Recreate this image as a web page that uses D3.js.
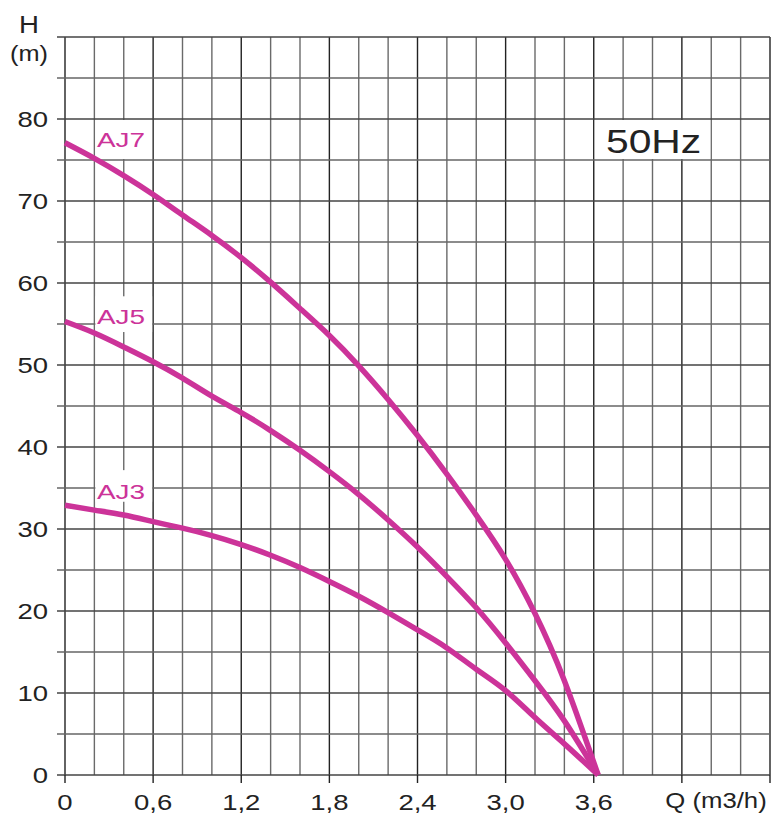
<!DOCTYPE html>
<html>
<head>
<meta charset="utf-8">
<script src="https://cdn.jsdelivr.net/npm/d3@7"></script>
<style>
  body { margin: 0; background: #fff; }
  svg { font-family: "Liberation Sans", Arial, sans-serif; }
</style>
</head>
<body>
<div id="chart"></div>
<script>
(function () {
  "use strict";

  // flow (m3/h) and head (m)
  const flow = [0, 0.2, 0.4, 0.6, 0.8, 1.0, 1.2, 1.4, 1.6, 1.8, 2.0, 2.2, 2.4, 2.6, 2.8, 3.0, 3.2, 3.4, 3.63];
  const headAJ7 = [77.1, 75.2, 73.1, 70.8, 68.3, 65.8, 63.1, 60.1, 56.9, 53.6, 49.9, 45.8, 41.4, 36.7, 31.7, 26.3, 19.7, 11.5, 0];
  const headAJ5 = [55.3, 53.9, 52.2, 50.4, 48.4, 46.2, 44.2, 42.0, 39.6, 37.0, 34.2, 31.1, 27.8, 24.2, 20.4, 16.1, 11.5, 6.6, 0];
  const headAJ3 = [32.9, 32.3, 31.7, 30.9, 30.1, 29.2, 28.1, 26.8, 25.3, 23.6, 21.8, 19.8, 17.7, 15.5, 12.9, 10.3, 7.0, 3.8, 0];
  const seriesNames = ["AJ7", "AJ5", "AJ3"];

  const xTickLabels = ["0", "0,6", "1,2", "1,8", "2,4", "3,0", "3,6"];
  const xTickValues = [0, 0.6, 1.2, 1.8, 2.4, 3.0, 3.6];
  const yTickValues = [0, 10, 20, 30, 40, 50, 60, 70, 80];

  const width = 771, height = 814;
  const margin = { left: 65, right: 1, top: 37, bottom: 39 };
  const pink = "#cc3399";
  const stretch = 1.25; // the original lettering is wide

  const x = d3.scaleLinear().domain([0, 4.8]).range([margin.left, width - margin.right]);
  const y = d3.scaleLinear().domain([0, 90]).range([height - margin.bottom, margin.top]);

  const svg = d3.select("#chart").append("svg")
    .attr("width", width).attr("height", height)
    .attr("viewBox", `0 0 ${width} ${height}`);

  // helper for stretched text
  const wideText = (parent, tx, ty, str, opts = {}) =>
    parent.append("text")
      .attr("transform", `translate(${tx},${ty}) scale(${opts.sx || stretch},1)`)
      .attr("text-anchor", opts.anchor || "start")
      .attr("font-size", opts.size || 22)
      .attr("fill", opts.fill || "#222")
      .text(str);

  // grid
  const grid = svg.append("g").classed("grid", true);
  d3.range(0, 4.8001, 0.2).forEach((q, i) => {
    grid.append("line")
      .attr("x1", x(q)).attr("x2", x(q))
      .attr("y1", y(90)).attr("y2", y(0))
      .attr("stroke", i % 3 == 0 ? "#222" : "#6a6a6a")
      .attr("stroke-width", 1.4);
  });
  d3.range(0, 90.001, 5).forEach((h, i) => {
    grid.append("line")
      .attr("x1", x(0) - 8).attr("x2", x(4.8))
      .attr("y1", y(h)).attr("y2", y(h))
      .attr("stroke", i % 2 == 0 ? "#444" : "#666")
      .attr("stroke-width", 1.4);
  });
  // ticks below x axis
  [...xTickValues, 4.2, 4.8].forEach((q) => {
    grid.append("line")
      .attr("x1", x(q)).attr("x2", x(q))
      .attr("y1", y(0)).attr("y2", y(0) + 8)
      .attr("stroke", "#222").attr("stroke-width", 1.4);
  });

  // axis labels
  const labels = svg.append("g");
  yTickValues.forEach((d) => wideText(labels, 48, y(d) + 7.5, d, { anchor: "end" }));
  xTickValues.forEach((d, i) => wideText(labels, x(d), 810, xTickLabels[i], { anchor: "middle" }));
  wideText(labels, 716, 808, "Q (m3/h)", { anchor: "middle", sx: 1.17 });
  wideText(labels, 29, 33, "H", { anchor: "middle", size: 24, sx: 1.15 });
  wideText(labels, 29, 61, "(m)", { anchor: "middle", size: 22, sx: 1.15 });

  // white boxes behind curve names and frequency
  const boxes = [
    { q0: 0.2, q1: 0.6, h0: 75, h1: 80 },
    { q0: 0.2, q1: 0.6, h0: 53.9, h1: 58.5 },
    { q0: 0.2, q1: 0.6, h0: 33.2, h1: 37.3 },
    { q0: 3.6, q1: 4.4, h0: 75, h1: 80 },
  ];
  svg.append("g").selectAll("rect")
    .data(boxes)
    .enter().append("rect")
    .attr("x", (d) => x(d.q0) + 1).attr("width", (d) => x(d.q1) - x(d.q0) - 2)
    .attr("y", (d) => y(d.h1) + 1).attr("height", (d) => y(d.h0) - y(d.h1) - 2)
    .attr("fill", "#fff");

  // curves
  const series = [
    { name: "AJ7", head: headAJ7, dy: 4.5 },
    { name: "AJ5", head: headAJ5, dy: 2.5 },
    { name: "AJ3", head: headAJ3, dy: -6.5 },
  ];
  const line = d3.line()
    .x((d) => x(d[0])).y((d) => y(d[1]))
    .curve(d3.curveNatural);
  svg.append("g").selectAll("path")
    .data(series)
    .enter().append("path")
    .attr("d", (d) => line(flow.map((q, i) => [q, d.head[i]])))
    .attr("fill", "none")
    .attr("stroke", pink)
    .attr("stroke-width", 5.5);

  // curve names
  const names = svg.append("g");
  series.forEach((d, i) =>
    wideText(names, 97, y(d.head[0]) + d.dy, seriesNames[i], { fill: pink, size: 21, sx: 1.33 }));

  wideText(svg, 606, 153, "50Hz", { size: 34, sx: 1.2 });
})();
</script>
</body>
</html>
